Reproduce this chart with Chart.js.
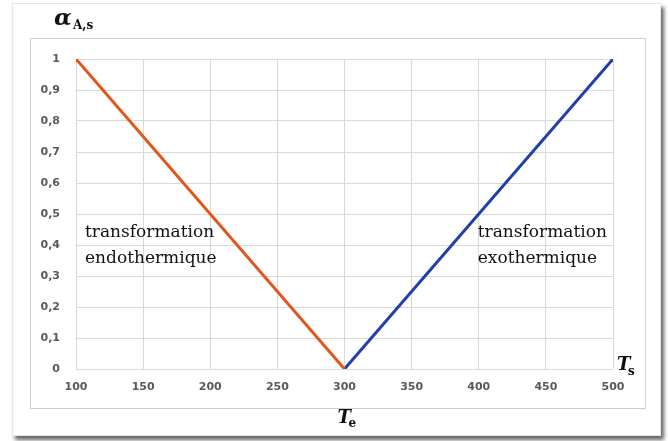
<!DOCTYPE html>
<html>
<head>
<meta charset="utf-8">
<script src="https://cdn.jsdelivr.net/npm/chart.js@4"></script>
<style>
  html, body { margin: 0; padding: 0; background: #fff; }
  #wrap { position: relative; width: 668px; height: 441px; }
  #outer {
    position: absolute; left: 12px; top: 3px; width: 647px; height: 431px;
    border: 1px solid #e6e6e6; background: #fff;
    box-shadow: 3px 4px 4px rgba(0,0,0,0.6);
  }
  #inner {
    position: absolute; left: 30px; top: 38px; width: 614px; height: 369px;
    border: 1px solid #cfcfcf; background: #fff;
  }
  canvas { position: absolute; left: 0; top: 0; }
</style>
</head>
<body>
<div id="wrap">
  <div id="outer"></div>
  <div id="inner"></div>
  <canvas id="chart" width="668" height="441"></canvas>
</div>
<script>
// endothermique (orange) and exothermique (blue) branches
const endoT = [100, 300];
const endoAlpha = [1, 0];
const exoT = [300, 500];
const exoAlpha = [0, 1];

const xTicks = [100, 150, 200, 250, 300, 350, 400, 450, 500];
const yTicks = [0, 0.1, 0.2, 0.3, 0.4, 0.5, 0.6, 0.7, 0.8, 0.9, 1];

const endoLabel = ["transformation", "endothermique"];
const exoLabel = ["transformation", "exothermique"];

function toPoints(xs, ys) {
    return xs.map((x, i) => ({ x: x, y: ys[i] }));
}

const textPlugin = {
    id: "textPlugin",
    afterDraw(chart) {
        const ctx = chart.ctx;
        const xs = chart.scales.x;
        const ys = chart.scales.y;
        ctx.save();
        ctx.fillStyle = "#111";
        ctx.textBaseline = "alphabetic";
        ctx.textAlign = "left";

        // annotations
        ctx.font = "17px 'DejaVu Serif'";
        const lineGap = 26;
        let x0 = xs.getPixelForValue(100) + 9;
        let y0 = ys.getPixelForValue(0.425);
        endoLabel.forEach((t, i) => ctx.fillText(t, x0, y0 + i * lineGap));
        x0 = xs.getPixelForValue(400) - 1;
        exoLabel.forEach((t, i) => ctx.fillText(t, x0, y0 + i * lineGap));

        // y axis title
        const left = chart.chartArea.left;
        const top = chart.chartArea.top;
        ctx.font = "italic bold 23px 'DejaVu Serif'";
        ctx.fillText("α", left - 22, top - 34);
        ctx.font = "bold 12px 'DejaVu Serif'";
        ctx.fillText("A,s", left - 3, top - 30);

        // x axis titles
        const bottom = chart.chartArea.bottom;
        const right = chart.chartArea.right;
        ctx.font = "italic bold 18px 'DejaVu Serif'";
        ctx.fillText("T", right + 4, bottom + 1);
        ctx.font = "bold 12px 'DejaVu Serif'";
        ctx.fillText("s", right + 15, bottom + 6);

        const xe = xs.getPixelForValue(300);
        ctx.font = "italic bold 18px 'DejaVu Serif'";
        ctx.fillText("T", xe - 7, bottom + 54);
        ctx.font = "bold 12px 'DejaVu Serif'";
        ctx.fillText("e", xe + 4, bottom + 58);
        ctx.restore();
    }
};

new Chart(document.getElementById("chart"), {
    type: "line",
    data: {
        datasets: [
            {
                label: "endothermique",
                data: toPoints(endoT, endoAlpha),
                borderColor: "#e2561c",
                borderWidth: 3,
                pointRadius: 0,
                fill: false,
            },
            {
                label: "exothermique",
                data: toPoints(exoT, exoAlpha),
                borderColor: "#1f3fae",
                borderWidth: 3,
                pointRadius: 0,
                fill: false,
            },
        ],
    },
    options: {
        responsive: false,
        animation: false,
        layout: { padding: { top: 59, right: 55, left: 0, bottom: 0 } },
        plugins: {
            legend: { display: false },
            tooltip: { enabled: false },
        },
        scales: {
            x: {
                type: "linear",
                min: 100,
                max: 500,
                afterBuildTicks: (s) => { s.ticks = xTicks.map(v => ({ value: v })); },
                afterFit: (s) => { s.height = 72; },
                grid: { color: "#d9d9d9", drawTicks: false },
                border: { display: false },
                ticks: {
                    padding: 12,
                    color: "#595959",
                    font: { family: "DejaVu Sans", size: 11, weight: "bold" },
                    maxRotation: 0,
                },
            },
            y: {
                min: 0,
                max: 1,
                afterBuildTicks: (s) => { s.ticks = yTicks.map(v => ({ value: v })); },
                afterFit: (s) => { s.width = 76; },
                grid: { color: "#d9d9d9", drawTicks: false },
                border: { display: false },
                ticks: {
                    padding: 16,
                    color: "#595959",
                    font: { family: "DejaVu Sans", size: 11, weight: "bold" },
                    callback: (v) => String(Math.round(v * 10) / 10).replace(".", ","),
                },
            },
        },
    },
    plugins: [textPlugin],
});
</script>
</body>
</html>
